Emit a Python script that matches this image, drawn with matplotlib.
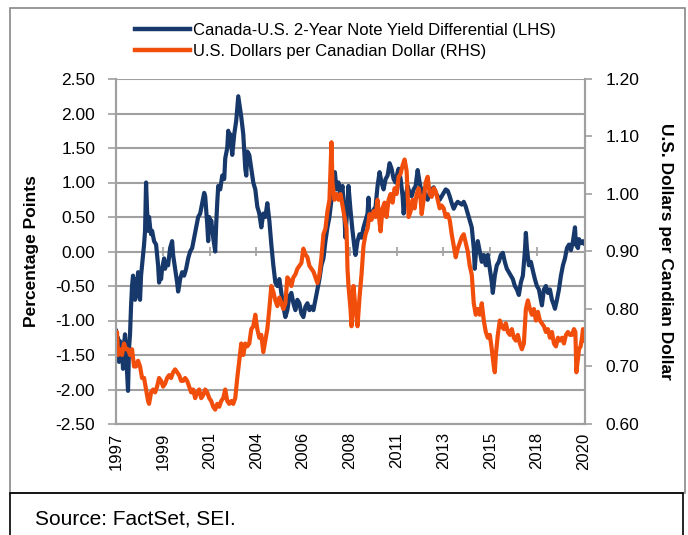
import matplotlib
matplotlib.use("Agg")
import matplotlib.pyplot as plt
from matplotlib.lines import Line2D
from matplotlib.patches import Rectangle

plt.rcParams['font.family'] = ['Liberation Sans', 'DejaVu Sans']

# Canada-U.S. 2-year note yield differential (percentage points)
yld_t = [1997.00, 1997.05, 1997.10, 1997.15, 1997.20, 1997.25, 1997.30, 1997.35, 1997.40, 1997.45,
         1997.50, 1997.55, 1997.60, 1997.65, 1997.70, 1997.75, 1997.80, 1997.85, 1997.90, 1997.95,
         1998.00, 1998.05, 1998.10, 1998.15, 1998.20, 1998.25, 1998.30, 1998.35, 1998.40, 1998.45,
         1998.50, 1998.55, 1998.60, 1998.65, 1998.70, 1998.75, 1998.80, 1998.90, 1999.00, 1999.05,
         1999.10, 1999.15, 1999.20, 1999.25, 1999.30, 1999.40, 1999.45, 1999.50, 1999.60, 1999.70,
         1999.80, 1999.85, 1999.90, 2000.00, 2000.05, 2000.10, 2000.15, 2000.20, 2000.30, 2000.40,
         2000.50, 2000.60, 2000.70, 2000.80, 2000.90, 2001.00, 2001.10, 2001.20, 2001.30, 2001.40,
         2001.45, 2001.50, 2001.55, 2001.60, 2001.65, 2001.70, 2001.75, 2001.85, 2001.95, 2002.00,
         2002.05, 2002.10, 2002.20, 2002.30, 2002.40, 2002.45, 2002.55, 2002.60, 2002.65, 2002.70,
         2002.80, 2002.90, 2003.00, 2003.10, 2003.15, 2003.25, 2003.35, 2003.45, 2003.50, 2003.55,
         2003.65, 2003.75, 2003.85, 2003.95, 2004.05, 2004.15, 2004.25, 2004.35, 2004.45, 2004.55,
         2004.65, 2004.75, 2004.85, 2004.95, 2005.05, 2005.15, 2005.25, 2005.35, 2005.45, 2005.55,
         2005.65, 2005.75, 2005.85, 2005.95, 2006.05, 2006.15, 2006.25, 2006.35, 2006.45, 2006.55,
         2006.65, 2006.75, 2006.85, 2006.95, 2007.05, 2007.15, 2007.25, 2007.35, 2007.45, 2007.55,
         2007.65, 2007.75, 2007.85, 2007.92, 2008.00, 2008.10, 2008.20, 2008.30, 2008.40, 2008.45,
         2008.55, 2008.60, 2008.70, 2008.80, 2008.90, 2008.95, 2009.05, 2009.15, 2009.25, 2009.35,
         2009.45, 2009.55, 2009.60, 2009.65, 2009.75, 2009.85, 2009.95, 2010.05, 2010.15, 2010.25,
         2010.35, 2010.45, 2010.55, 2010.65, 2010.75, 2010.85, 2010.95, 2011.05, 2011.10, 2011.20,
         2011.30, 2011.35, 2011.45, 2011.55, 2011.65, 2011.75, 2011.85, 2011.95, 2012.05, 2012.15,
         2012.25, 2012.35, 2012.45, 2012.55, 2012.65, 2012.75, 2012.85, 2012.95, 2013.05, 2013.15,
         2013.25, 2013.35, 2013.45, 2013.55, 2013.65, 2013.75, 2013.85, 2013.95, 2014.05, 2014.15,
         2014.25, 2014.35, 2014.45, 2014.55, 2014.65, 2014.75, 2014.85, 2014.90, 2014.95, 2015.05,
         2015.15, 2015.25, 2015.35, 2015.45, 2015.55, 2015.65, 2015.75, 2015.80, 2015.90, 2016.00,
         2016.10, 2016.20, 2016.30, 2016.40, 2016.50, 2016.60, 2016.70, 2016.80, 2016.90, 2017.00,
         2017.10, 2017.20, 2017.30, 2017.40, 2017.45, 2017.50, 2017.60, 2017.70, 2017.80, 2017.90,
         2018.00, 2018.10, 2018.20, 2018.25, 2018.35, 2018.45, 2018.55, 2018.65, 2018.75, 2018.85,
         2018.90, 2019.00, 2019.10, 2019.20, 2019.30, 2019.40, 2019.50, 2019.60, 2019.70, 2019.80,
         2019.90, 2019.95, 2020.05, 2020.10, 2020.20, 2020.30, 2020.35]
yld_v = [-1.15, -1.45, -1.25, -1.60, -1.30, -1.55, -1.40, -1.70, -1.35, -1.20,
         -1.45, -1.75, -2.02, -1.40, -1.20, -0.80, -0.50, -0.35, -0.60, -0.70,
         -0.40, -0.55, -0.30, -0.65, -0.70, -0.35, -0.20, -0.05, 0.10, 0.30,
         1.00, 0.60, 0.30, 0.50, 0.35, 0.25, 0.30, 0.15, 0.10, -0.05,
         -0.20, -0.45, -0.30, -0.40, -0.25, -0.10, -0.25, -0.15, -0.20, 0.05,
         0.15, -0.05, -0.15, -0.35, -0.45, -0.58, -0.50, -0.40, -0.30, -0.35,
         -0.25, -0.10, 0.00, 0.05, 0.20, 0.35, 0.50, 0.55, 0.70, 0.85,
         0.80, 0.60, 0.40, 0.15, 0.50, 0.30, 0.45, 0.20, 0.00, 0.40,
         0.70, 0.95, 0.90, 1.10, 1.05, 1.35, 1.50, 1.75, 1.55, 1.70,
         1.40, 1.70, 1.90, 2.25, 2.15, 1.95, 1.70, 1.20, 1.10, 1.45,
         1.40, 1.20, 1.00, 0.90, 0.65, 0.55, 0.35, 0.55, 0.50, 0.70,
         0.45, 0.10, -0.20, -0.45, -0.50, -0.40, -0.60, -0.80, -0.95, -0.85,
         -0.65, -0.60, -0.75, -0.85, -0.70, -0.75, -0.90, -0.95, -0.80, -0.75,
         -0.85, -0.80, -0.85, -0.70, -0.55, -0.40, -0.20, -0.10, 0.15, 0.35,
         0.50, 0.75, 1.00, 1.15, 0.90, 1.00, 0.80, 0.95, 0.50, 0.20,
         0.70, 0.95, 0.60, 0.30, 0.05, -0.05, 0.15, 0.25, 0.20, 0.35,
         0.45, 0.55, 0.78, 0.50, 0.55, 0.60, 0.65, 0.95, 1.15, 1.00,
         0.90, 1.05, 1.10, 1.28, 1.20, 1.05, 1.00, 1.15, 1.20, 1.05,
         0.80, 0.55, 0.80, 0.95, 0.85, 0.80, 0.90, 0.95, 1.18, 1.00,
         0.85, 0.90, 0.80, 0.75, 0.85, 0.90, 0.93, 0.85, 0.80, 0.75,
         0.80, 0.85, 0.90, 0.88, 0.80, 0.70, 0.62, 0.68, 0.72, 0.70,
         0.68, 0.72, 0.65, 0.55, 0.45, 0.35, 0.05, -0.25, -0.05, 0.15,
         0.00, -0.15, -0.05, -0.20, -0.05, -0.25, -0.45, -0.60, -0.35, -0.20,
         -0.15, -0.05, -0.02, -0.15, -0.25, -0.30, -0.35, -0.40, -0.50, -0.55,
         -0.63, -0.45, -0.35, 0.00, 0.27, 0.05, -0.20, -0.15, -0.28, -0.40,
         -0.50, -0.55, -0.70, -0.78, -0.55, -0.50, -0.60, -0.55, -0.70, -0.78,
         -0.83, -0.70, -0.55, -0.35, -0.20, -0.10, 0.05, 0.10, 0.02, 0.15,
         0.35, 0.10, 0.05, 0.18, 0.12, 0.15, 0.12]

# U.S. dollars per Canadian dollar
fx_t = [1997.00, 1997.05, 1997.10, 1997.20, 1997.30, 1997.40, 1997.50, 1997.60, 1997.70, 1997.80,
        1997.90, 1998.00, 1998.10, 1998.20, 1998.30, 1998.40, 1998.50, 1998.60, 1998.65, 1998.75,
        1998.85, 1998.95, 1999.05, 1999.15, 1999.25, 1999.35, 1999.45, 1999.55, 1999.65, 1999.75,
        1999.85, 1999.95, 2000.05, 2000.15, 2000.25, 2000.35, 2000.45, 2000.55, 2000.65, 2000.75,
        2000.85, 2000.95, 2001.05, 2001.15, 2001.25, 2001.35, 2001.45, 2001.55, 2001.65, 2001.75,
        2001.85, 2001.95, 2002.05, 2002.15, 2002.25, 2002.35, 2002.45, 2002.55, 2002.65, 2002.75,
        2002.85, 2002.95, 2003.05, 2003.15, 2003.25, 2003.35, 2003.45, 2003.55, 2003.65, 2003.75,
        2003.85, 2003.95, 2004.05, 2004.15, 2004.25, 2004.35, 2004.45, 2004.55, 2004.65, 2004.75,
        2004.85, 2004.95, 2005.05, 2005.15, 2005.25, 2005.35, 2005.45, 2005.55, 2005.65, 2005.75,
        2005.85, 2005.95, 2006.05, 2006.15, 2006.25, 2006.35, 2006.45, 2006.55, 2006.65, 2006.75,
        2006.85, 2006.95, 2007.05, 2007.15, 2007.25, 2007.35, 2007.45, 2007.55, 2007.65, 2007.75,
        2007.80, 2007.90, 2008.00, 2008.10, 2008.20, 2008.30, 2008.40, 2008.50, 2008.55, 2008.60,
        2008.70, 2008.75, 2008.85, 2008.95, 2009.05, 2009.15, 2009.25, 2009.35, 2009.45, 2009.55,
        2009.65, 2009.75, 2009.85, 2009.95, 2010.05, 2010.15, 2010.20, 2010.30, 2010.40, 2010.50,
        2010.60, 2010.70, 2010.80, 2010.90, 2011.00, 2011.10, 2011.20, 2011.30, 2011.40, 2011.50,
        2011.60, 2011.70, 2011.80, 2011.90, 2012.00, 2012.10, 2012.20, 2012.25, 2012.35, 2012.45,
        2012.55, 2012.65, 2012.75, 2012.85, 2012.95, 2013.05, 2013.15, 2013.25, 2013.35, 2013.45,
        2013.55, 2013.65, 2013.75, 2013.85, 2013.95, 2014.05, 2014.15, 2014.25, 2014.35, 2014.45,
        2014.55, 2014.65, 2014.75, 2014.85, 2014.95, 2015.05, 2015.15, 2015.25, 2015.35, 2015.45,
        2015.55, 2015.65, 2015.75, 2015.85, 2015.90, 2015.95, 2016.05, 2016.15, 2016.25, 2016.35,
        2016.45, 2016.55, 2016.65, 2016.75, 2016.85, 2016.95, 2017.05, 2017.15, 2017.25, 2017.35,
        2017.45, 2017.55, 2017.65, 2017.75, 2017.85, 2017.95, 2018.05, 2018.15, 2018.25, 2018.35,
        2018.45, 2018.55, 2018.65, 2018.75, 2018.85, 2018.95, 2019.05, 2019.15, 2019.25, 2019.35,
        2019.45, 2019.55, 2019.65, 2019.75, 2019.85, 2019.92, 2019.97, 2020.02, 2020.10, 2020.18,
        2020.25, 2020.30, 2020.35]
fx_v = [0.74, 0.76, 0.72, 0.73, 0.72, 0.74, 0.73, 0.73, 0.72, 0.73,
        0.70, 0.70, 0.71, 0.70, 0.68, 0.68, 0.66, 0.64, 0.635, 0.655,
        0.66, 0.655, 0.665, 0.68, 0.675, 0.665, 0.67, 0.68, 0.685, 0.68,
        0.69, 0.695, 0.69, 0.685, 0.675, 0.675, 0.68, 0.675, 0.665, 0.655,
        0.66, 0.645, 0.655, 0.66, 0.645, 0.65, 0.66, 0.655, 0.645, 0.64,
        0.63, 0.625, 0.635, 0.63, 0.64, 0.645, 0.66, 0.64, 0.635, 0.64,
        0.635, 0.645, 0.68, 0.71, 0.74, 0.72, 0.74, 0.735, 0.74, 0.765,
        0.77, 0.79, 0.765, 0.75, 0.755, 0.725, 0.745, 0.765, 0.80, 0.84,
        0.83, 0.815, 0.805, 0.82, 0.81, 0.80, 0.81, 0.855, 0.85, 0.84,
        0.855, 0.86, 0.87, 0.875, 0.88, 0.905, 0.895, 0.89, 0.875, 0.87,
        0.865, 0.855, 0.845, 0.86, 0.89, 0.93, 0.94, 0.97, 0.99, 1.09,
        1.02, 0.99, 1.00, 0.99, 1.00, 0.98, 0.96, 0.94, 0.87, 0.84,
        0.80, 0.77, 0.84, 0.80, 0.77, 0.82, 0.86, 0.91, 0.93, 0.94,
        0.965, 0.955, 0.97, 0.96, 0.99, 0.95, 0.935, 0.975, 0.985, 0.96,
        0.99, 1.00, 0.985, 1.01, 1.00, 1.03, 1.035, 1.05, 1.06, 1.04,
        0.96, 0.97, 0.99, 0.975, 1.00, 1.01, 0.99, 0.965, 0.99, 1.02,
        1.03, 1.00, 0.995, 1.01, 1.005, 0.99, 0.975, 0.98, 0.975, 0.96,
        0.965, 0.955, 0.93, 0.91, 0.89, 0.905, 0.915, 0.925, 0.93, 0.915,
        0.90, 0.875, 0.86, 0.81, 0.79, 0.80, 0.79, 0.81, 0.78, 0.76,
        0.75, 0.755, 0.73, 0.70, 0.69, 0.72, 0.755, 0.78, 0.77, 0.765,
        0.775, 0.76, 0.755, 0.765, 0.75, 0.745, 0.755, 0.74, 0.73, 0.74,
        0.80, 0.815, 0.80, 0.79, 0.80, 0.78, 0.795, 0.78, 0.775, 0.77,
        0.76, 0.765, 0.75, 0.76, 0.74, 0.735, 0.75, 0.745, 0.75, 0.74,
        0.755, 0.76, 0.755, 0.755, 0.765, 0.76, 0.69, 0.705, 0.73, 0.735,
        0.75, 0.765, 0.745]

year_ticks = [1997.0, 1999.333, 2001.667, 2004.0, 2006.333, 2008.667,
              2011.0, 2013.333, 2015.667, 2018.0, 2020.333]
year_labels = ['1997', '1999', '2001', '2004', '2006', '2008',
               '2011', '2013', '2015', '2018', '2020']
left_ticks = [-2.5, -2.0, -1.5, -1.0, -0.5, 0.0, 0.5, 1.0, 1.5, 2.0, 2.5]
right_ticks = [0.6, 0.7, 0.8, 0.9, 1.0, 1.1, 1.2]

blue = '#17386A'
orange = '#F24E0B'
grey = '#A0A0A0'

W, H = 688, 535
fig = plt.figure(figsize=(W / 100, H / 100), dpi=100)

# outer chart frame and source box
fig.patches.append(Rectangle((10 / W, 1 - 493 / H), 675 / W, 485 / H, transform=fig.transFigure,
                             fill=False, edgecolor='#888888', linewidth=1.2))
fig.patches.append(Rectangle((10 / W, -0.01), 673 / W, (42 / H) + 0.01, transform=fig.transFigure,
                             fill=False, edgecolor='black', linewidth=1.2))
fig.text(35 / W, 1 - 519 / H, 'Source: FactSet, SEI.', fontsize=15, va='center', ha='left')

ax = fig.add_axes([116 / W, 1 - 424 / H, 469 / W, 345 / H])
ax2 = ax.twinx()

ax.plot(yld_t, yld_v, color=blue, linewidth=3.0, solid_joinstyle='round')
ax2.plot(fx_t, fx_v, color=orange, linewidth=3.0, solid_joinstyle='round')

ax.set_xlim(1997.0, 2020.4)
ax.set_ylim(-2.5, 2.5)
ax2.set_ylim(0.6, 1.2)

ax.set_yticks(left_ticks)
ax.set_yticklabels([f'{v:.2f}' for v in left_ticks])
ax2.set_yticks(right_ticks)
ax2.set_yticklabels([f'{v:.2f}' for v in right_ticks])
ax.set_xticks(year_ticks)
ax.set_xticklabels(year_labels, rotation=90)

ax.grid(axis='y', color=grey, linewidth=1.5)
ax.set_axisbelow(True)
# x-axis tick marks sit on the zero line
ax.vlines(year_ticks[1:-1], -0.06, 0.06, color=grey, linewidth=1.2, zorder=1)

for a in (ax, ax2):
    a.spines['top'].set_visible(False)
    for s in ('left', 'right', 'bottom'):
        a.spines[s].set_color(grey)
        a.spines[s].set_linewidth(1.5)
ax.tick_params(axis='y', labelsize=12.5, color=grey, width=1.2, length=6, pad=9)
ax.tick_params(axis='x', labelsize=12, length=0, pad=6)
ax2.tick_params(axis='y', labelsize=12.5, color=grey, width=1.2, length=5, pad=10)

ax.set_ylabel('Percentage Points', fontsize=12.5, fontweight='bold', labelpad=12)
ax2.set_ylabel('U.S. Dollars per Candian Dollar', fontsize=12.5, fontweight='bold',
               rotation=-90, labelpad=24)

handles = [Line2D([], [], color=blue, linewidth=3.2), Line2D([], [], color=orange, linewidth=3.2)]
fig.legend(handles, ['Canada-U.S. 2-Year Note Yield Differential (LHS)',
                     'U.S. Dollars per Canadian Dollar (RHS)'],
           loc='upper left', bbox_to_anchor=(135 / W, 1 - 23 / H), frameon=False,
           fontsize=12, handlelength=3.3, handletextpad=0.18, labelspacing=0.38,
           borderpad=0, borderaxespad=0)

fig.savefig('out.png', dpi=100)
